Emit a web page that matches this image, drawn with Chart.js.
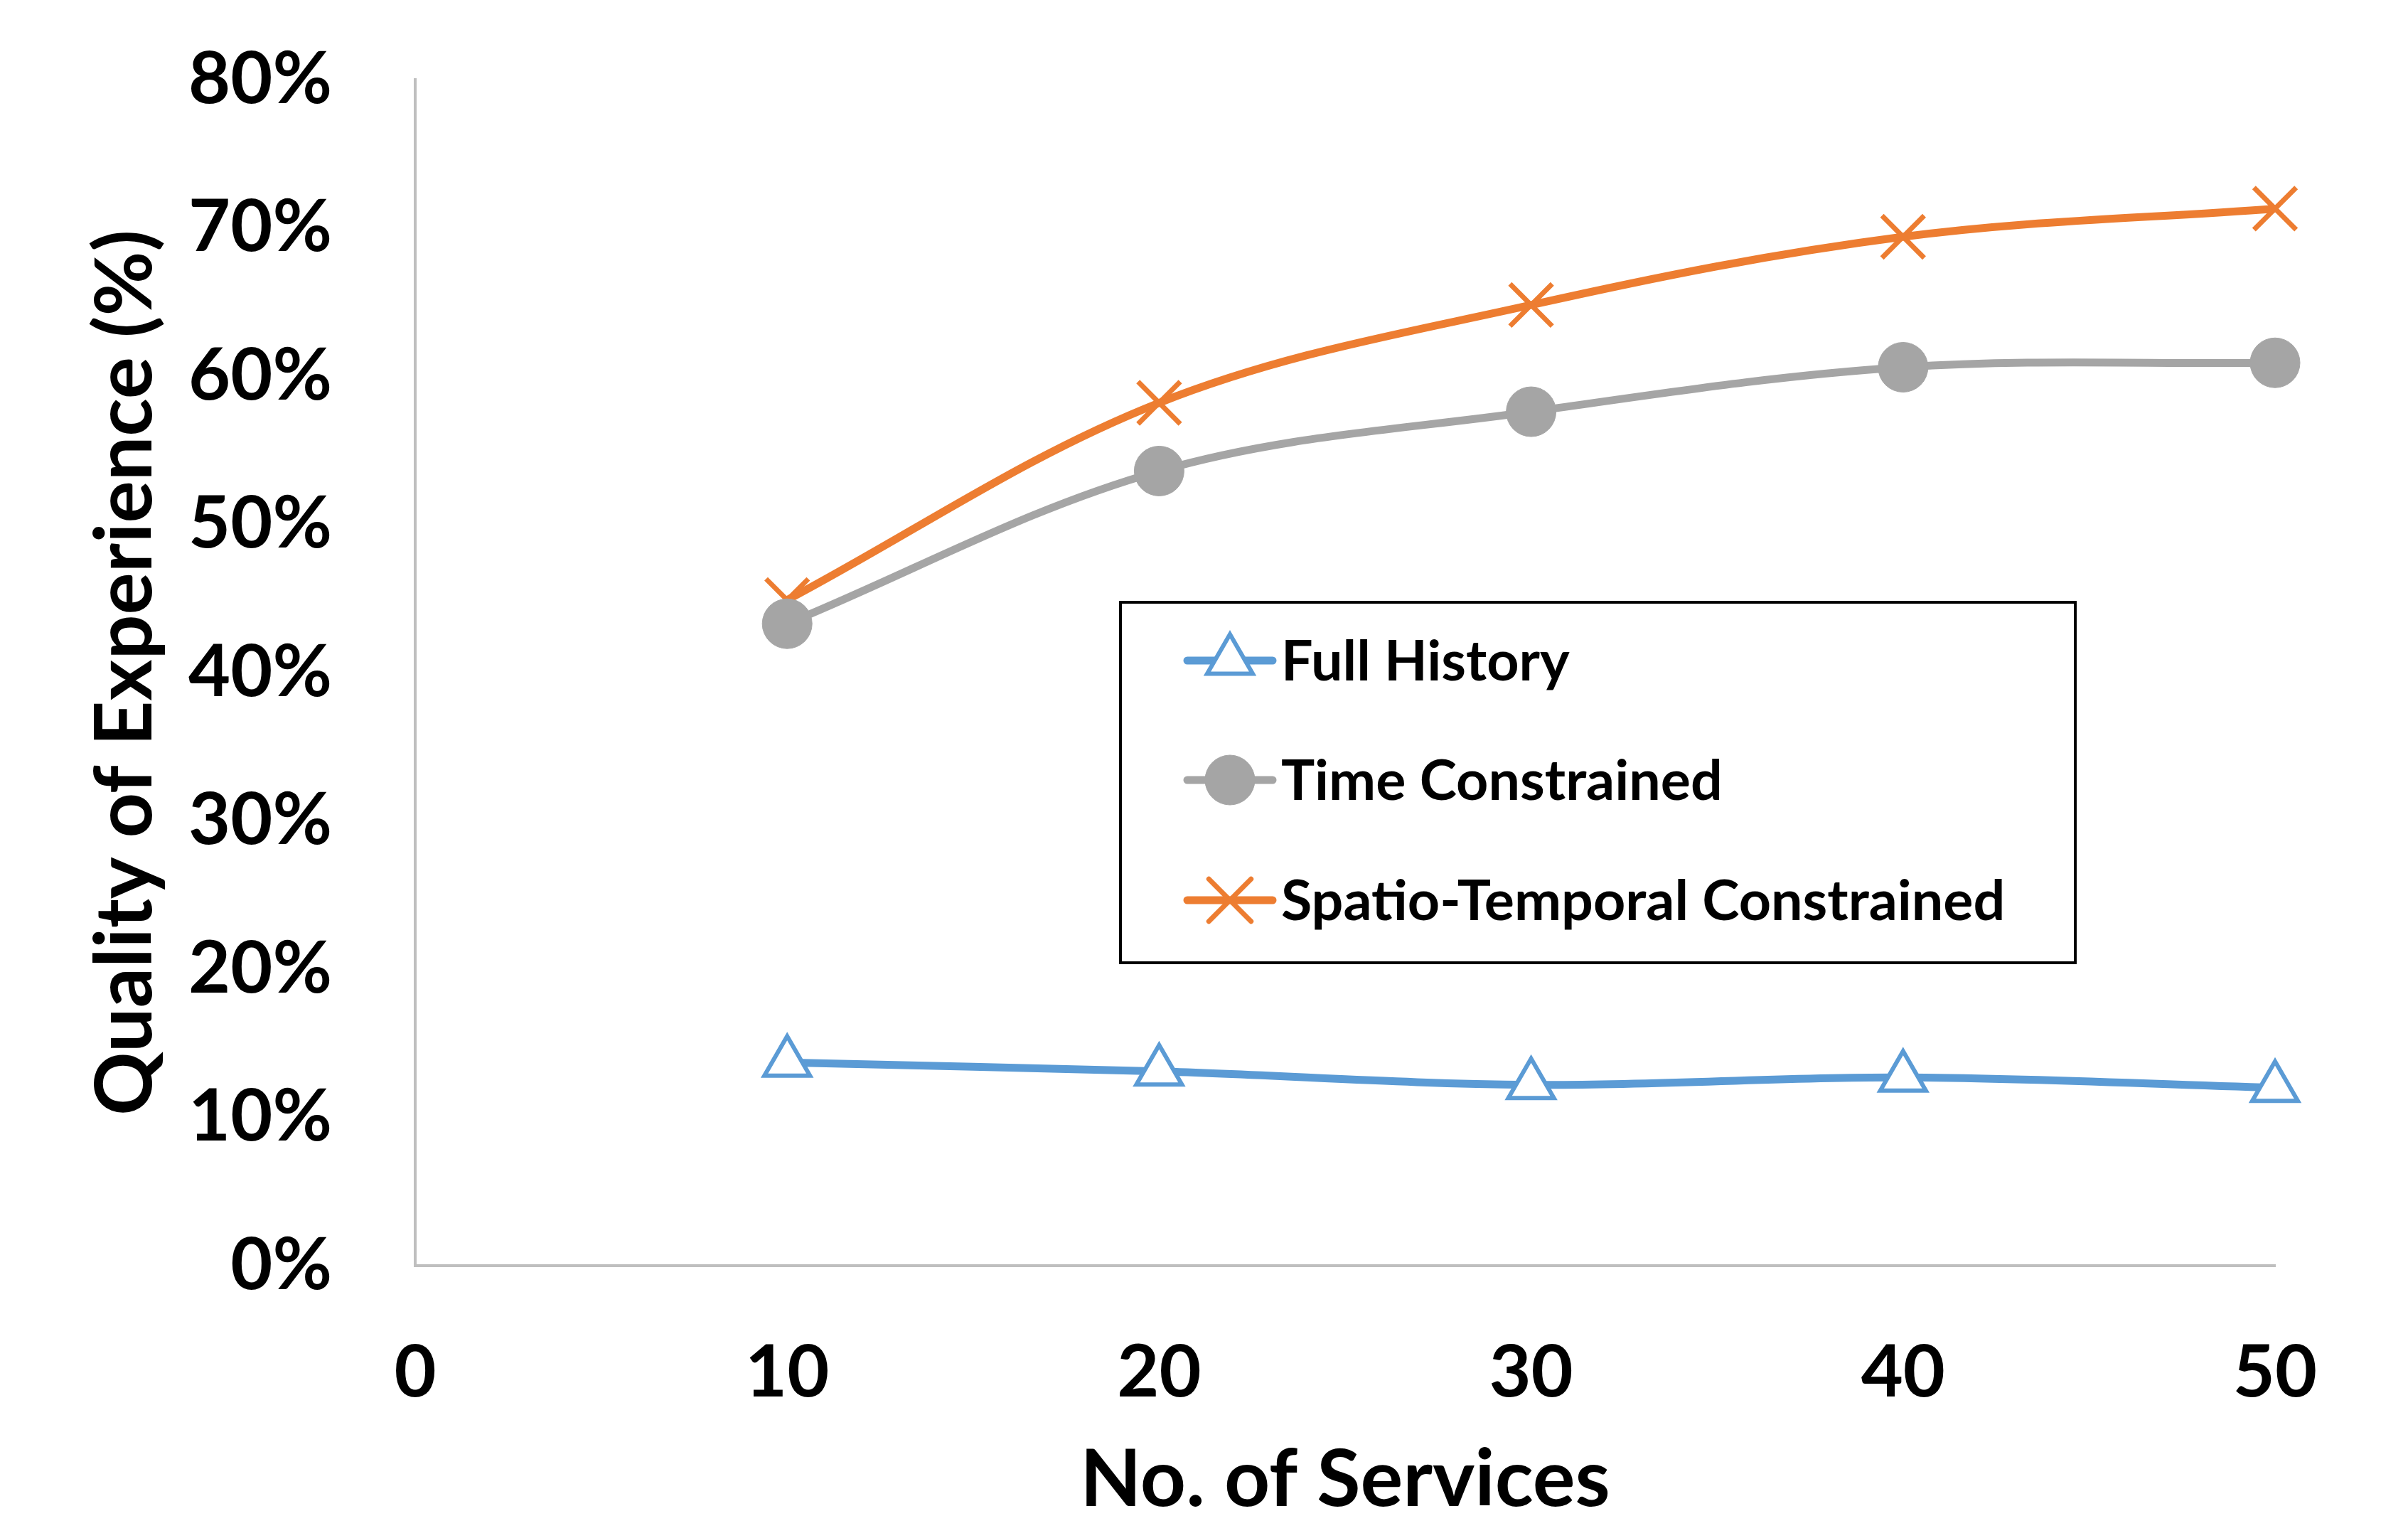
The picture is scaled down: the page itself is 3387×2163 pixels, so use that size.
<!DOCTYPE html>
<html><head><meta charset="utf-8">
<script src="https://cdn.jsdelivr.net/npm/chart.js@4.4.1/dist/chart.umd.min.js"></script>
<style>html,body{margin:0;padding:0;background:#fff}canvas{display:block}</style>
</head><body>
<canvas id="c" width="3387" height="2163"></canvas>
<script>
// ---- data ----
const services = [10, 20, 30, 40, 50];
const seriesNames = ['Full History', 'Time Constrained', 'Spatio-Temporal Constrained'];
const fullHistory = [0.137, 0.131, 0.122, 0.127, 0.120];
const timeConstrained = [0.433, 0.536, 0.576, 0.606, 0.609];
const spatioTemporal = [0.449, 0.582, 0.648, 0.694, 0.713];
const xTickValues = [0, 10, 20, 30, 40, 50];
const yTickValues = [0, 0.1, 0.2, 0.3, 0.4, 0.5, 0.6, 0.7, 0.8];
const xTitle = 'No. of Services';
const yTitle = 'Quality of Experience (%)';

const toPoints = arr => services.map((s, i) => ({x: s, y: arr[i]}));

function drawMarker(ctx, ds, x, y) {
  const opts = {pointStyle: ds.pointStyle, radius: ds.pointRadius, borderWidth: ds.pointBorderWidth, rotation: 0};
  ctx.fillStyle = ds.pointBackgroundColor;
  ctx.strokeStyle = ds.pointBorderColor;
  ctx.lineWidth = ds.pointBorderWidth;
  Chart.helpers.drawPoint(ctx, opts, x, y);
}

const boxLegend = {
  id: 'boxLegend',
  afterDraw(chart, args, o) {
    const ctx = chart.ctx;
    ctx.save();
    ctx.lineWidth = o.frameWidth;
    ctx.strokeStyle = '#000';
    ctx.strokeRect(o.left, o.top, o.width, o.height);
    chart.data.datasets.forEach((ds, i) => {
      const y = o.rows[i];
      ctx.strokeStyle = ds.borderColor;
      ctx.lineWidth = ds.borderWidth;
      ctx.lineCap = 'round';
      ctx.beginPath();
      ctx.moveTo(o.lineX0, y);
      ctx.lineTo(o.lineX1, y);
      ctx.stroke();
      drawMarker(ctx, ds, (o.lineX0 + o.lineX1) / 2, y);
      ctx.fillStyle = '#000';
      ctx.font = 'bold ' + o.fontSize + 'px Lato, "Open Sans", sans-serif';
      ctx.textBaseline = 'alphabetic';
      ctx.textAlign = 'left';
      ctx.fillText(ds.label, o.textX, y + o.fontSize * 0.358);
    });
    ctx.restore();
  }
};

const font = (size) => ({family: 'Lato, "Open Sans", sans-serif', weight: 'bold', size: size, lineHeight: 1.2});

new Chart(document.getElementById('c'), {
  type: 'line',
  data: {
    datasets: [
      {
        label: seriesNames[0], data: toPoints(fullHistory),
        borderColor: '#5B9BD5', borderWidth: 11, tension: 0.35,
        pointStyle: 'triangle', pointRadius: 37, pointBorderWidth: 6,
        pointBorderColor: '#5B9BD5', pointBackgroundColor: '#ffffff', clip: false
      },
      {
        label: seriesNames[1], data: toPoints(timeConstrained),
        borderColor: '#A5A5A5', borderWidth: 11, tension: 0.35,
        pointStyle: 'circle', pointRadius: 35, pointBorderWidth: 1,
        pointBorderColor: '#A5A5A5', pointBackgroundColor: '#A5A5A5', clip: false
      },
      {
        label: seriesNames[2], data: toPoints(spatioTemporal),
        borderColor: '#ED7D31', borderWidth: 11, tension: 0.35,
        pointStyle: 'crossRot', pointRadius: 42, pointBorderWidth: 7,
        pointBorderColor: '#ED7D31', pointBackgroundColor: '#ED7D31', clip: false
      }
    ]
  },
  options: {
    responsive: false,
    animation: false,
    devicePixelRatio: 1,
    layout: {padding: {left: 0, right: 187, top: 112, bottom: 0}},
    plugins: {
      legend: {display: false},
      tooltip: {enabled: false},
      boxLegend: {
        left: 1576, top: 847, width: 1343, height: 507, frameWidth: 4,
        rows: [929, 1097, 1266], lineX0: 1670, lineX1: 1790, textX: 1802, fontSize: 79
      }
    },
    scales: {
      x: {
        type: 'linear', min: 0, max: 50,
        afterBuildTicks: s => { s.ticks = xTickValues.map(v => ({value: v})); },
        afterFit: s => { s.height = 383; s.paddingLeft = 0; s.paddingRight = 0; },
        grid: {display: false, drawTicks: false},
        border: {display: true, color: '#BFBFBF', width: 4},
        ticks: {font: font(102), color: '#000', padding: 90, maxRotation: 0, autoSkip: false},
        title: {display: true, text: xTitle, font: font(112), color: '#000', padding: {top: 0, bottom: 14}}
      },
      y: {
        type: 'linear', min: 0, max: 0.8,
        afterBuildTicks: s => { s.ticks = yTickValues.map(v => ({value: v})); },
        afterFit: s => { s.width = 584; s.paddingTop = 0; s.paddingBottom = 0; },
        grid: {display: false, drawTicks: false},
        border: {display: true, color: '#BFBFBF', width: 4},
        ticks: {font: font(102), color: '#000', padding: 117, autoSkip: false,
                callback: v => Math.round(v * 100) + '%'},
        title: {display: true, text: yTitle, font: font(111), color: '#000', padding: {top: 111, bottom: 0}}
      }
    }
  },
  plugins: [boxLegend]
});
</script>
</body></html>
